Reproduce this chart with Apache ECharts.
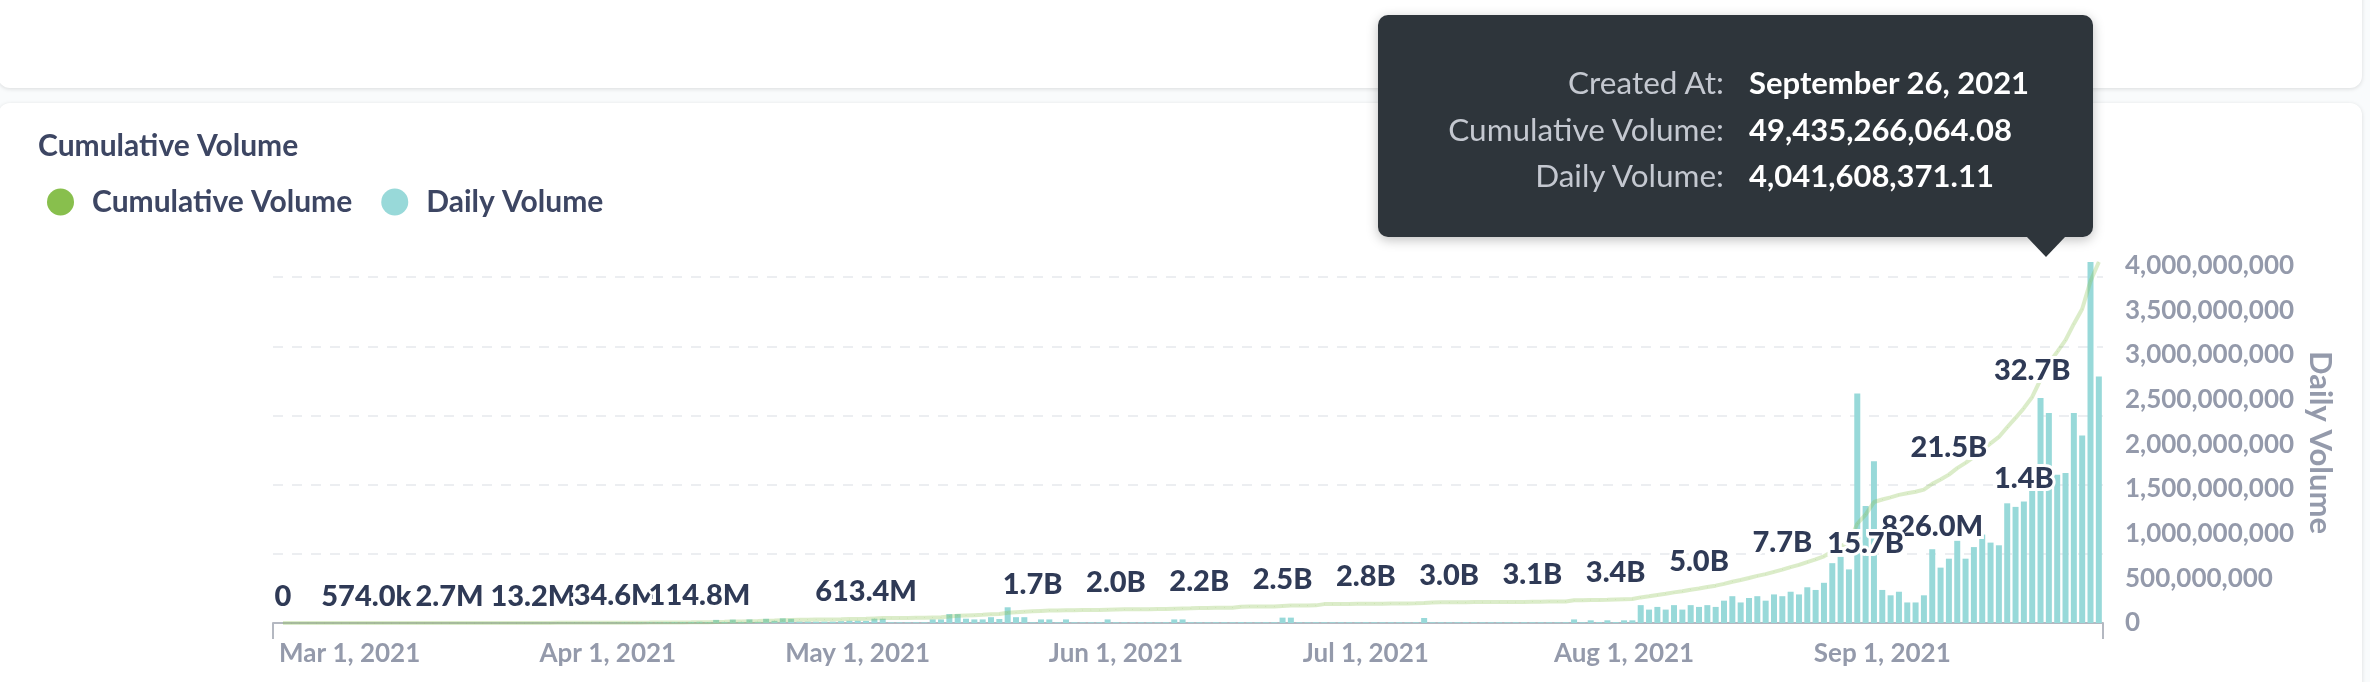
<!DOCTYPE html>
<html><head><meta charset="utf-8">
<script src="https://cdn.jsdelivr.net/npm/echarts@6/dist/echarts.min.js"></script>
<style>
html,body{margin:0;padding:0;width:2370px;height:682px;overflow:hidden;background:#f9fbfc;font-family:Lato,sans-serif;}
.card{position:absolute;background:#fff;border-radius:12px;box-shadow:0 1px 4px rgba(0,0,0,0.13);}
#c1{left:-2px;top:-20px;width:2364px;height:108px;}
#c2{left:-2px;top:103px;width:2364px;height:620px;}
#chart{position:absolute;left:0;top:0;width:2370px;height:682px;}
</style></head><body>
<div class="card" id="c1"></div><div class="card" id="c2"></div>
<div id="chart"></div>
<script>
// ---- data (values in millions) ----
const startDate = '2021-02-21';
const dailyVolumeM = [
0,0.02,0.03,0.03,0.04,0.06,0.07,0.08,0.08,0.08,
0.084,0.106,0.14,0.16,0.17,0.2,0.23,0.25,0.27,0.3,
0.3,0.7,0.8,0.9,0.9,1.0,1.1,1.2,1.2,1.3,
1.4,1.6,1.7,1.9,1.9,2.1,2.2,2.4,2.5,2.5,
2.6,4.4,5,5,6,7,8,9,10,12,
13.8,10,35,12,38,12,40,13,47,24,
52,47,15,15,15,15,15,20,25,25,
23.6,48,48,8,8,8,8,8,40,40,
100,100,48,40,40,65,45,176,65,65,
8,40,40,8,40,8,8,8,8,40,
8,8,8,8,8,8,8,40,40,8,
8,8,8,8,8,10,8,8,8,8,
60,60,8,8,8,8,8,8,8,8,
8,8,8,8,8,8,8,56,8,8,
8,8,8,8,8,8,8,8,8,8,
8,8,8,8,8,40,8,30,10,30,
10,30,30,200,150,180,150,200,150,200,
180,200,180,250,300,230,280,300,250,320,
300,350,320,400,370,450,670,740,600,2570,
1310,1810,370,310,350,230,230,310,826.0,620,
720,920,720,850,990,900,870,1340,1300,1360,
1520,2520,2350,1660,1680,2350,2100,4041.60837111,2760
];
const cumulativeVolumeM = [
0,0.02,0.05,0.08,0.12,0.18,0.25,0.33,0.41,0.49,
0.574,0.68,0.82,0.98,1.15,1.35,1.58,1.83,2.1,2.4,
2.7,3.4,4.2,5.1,6.0,7.0,8.1,9.3,10.5,11.8,
13.2,14.8,16.5,18.4,20.3,22.4,24.6,27.0,29.5,32.0,
34.6,39,44,49,55,62,70,79,89,101,
114.8,124.8,159.8,171.8,209.8,221.8,261.8,274.8,321.8,345.8,
397.8,444.8,459.8,474.8,489.8,504.8,519.8,539.8,564.8,589.8,
613.4,661.4,709.4,717.4,725.4,733.4,741.4,749.4,789.4,829.4,
929.4,1040,1090,1135,1180,1250,1300,1480,1550,1620,
1690,1740,1790,1800,1845,1855,1865,1875,1885,1930,
1960,1970,1980,1990,2000,2010,2020,2065,2110,2120,
2180,2185,2190,2195,2200,2360,2370,2380,2390,2400,
2460,2520,2530,2540,2550,2730,2740,2750,2760,2770,
2780,2790,2800,2810,2820,2830,2840,2900,2980,2990,
3000,3010,3015,3020,3025,3030,3035,3040,3045,3050,
3080,3090,3100,3110,3120,3280,3290,3320,3330,3360,
3400,3430,3460,3700,3870,4060,4220,4430,4590,4800,
5000,5210,5400,5660,5970,6210,6500,6810,7070,7400,
7710,8070,8400,8810,9190,9650,10330,11080,11690,14350,
15680,17490,17860,18170,18520,18750,18980,19290,20116,20736,
21456,22400,23150,24020,25040,25980,26900,28300,29650,31060,
32680,35200,37550,39210,40890,43240,45393.66,49435.26606408,52195
];
const lineLabelIdx = [0,10,20,30,40,50,70,90,100,110,120,130,140,150,160,170,180,190,200,210];
const lineLabelBelowIdx = [190];
const barLabelIdx = [198,209];
const dailyTicksM = [0,500,1000,1500,2000,2500,3000,3500,4000];
const gridStepM = 10000;
const hoverIdx = 217;
const monthsShort = ['Jan','Feb','Mar','Apr','May','Jun','Jul','Aug','Sep','Oct','Nov','Dec'];
const monthsLong = ['January','February','March','April','May','June','July','August','September','October','November','December'];

// ---- helpers ----
const [sy, sm, sd] = startDate.split('-').map(Number);
const dates = dailyVolumeM.map((_, i) => new Date(Date.UTC(sy, sm - 1, sd + i)));
const monthStartIdx = dates.map((d, i) => d.getUTCDate() === 1 ? i : -1).filter(i => i >= 0);
const fmtShort = d => monthsShort[d.getUTCMonth()] + ' ' + d.getUTCDate() + ', ' + d.getUTCFullYear();
const fmtLong = d => monthsLong[d.getUTCMonth()] + ' ' + d.getUTCDate() + ', ' + d.getUTCFullYear();
const compact = v => v === 0 ? '0' : v < 1 ? (v * 1000).toFixed(1) + 'k' : v < 1000 ? v.toFixed(1) + 'M' : (v / 1000).toFixed(1) + 'B';
const full = v => (v * 1e6).toLocaleString('en-US', {minimumFractionDigits: 2, maximumFractionDigits: 2});
const intFmt = v => Math.round(v * 1e6).toLocaleString('en-US');

const xMin = -1.2, xMax = dailyVolumeM.length - 1 + 0.5;
const FONT = 'Lato';
const labelStyle = {position: 'top', color: '#2f3a56', fontFamily: FONT, fontSize: 29, fontWeight: 900,
  textBorderColor: '#fff', textBorderWidth: 6};
const axisGrey = '#949aab';

const chart = echarts.init(document.getElementById('chart'), null, {renderer: 'canvas'});

function tipHtml(i) {
  const rows = [['Created At:', fmtLong(dates[i])], ['Cumulative Volume:', full(cumulativeVolumeM[i])], ['Daily Volume:', full(dailyVolumeM[i])]];
  let h = '<div style="position:relative;width:715px;height:222px;background:#2e353b;border-radius:10px;box-shadow:0 3px 12px rgba(0,0,0,0.25);font-family:Lato;font-size:31px;line-height:36px;">';
  rows.forEach((r, k) => {
    const t = 49 + k * 46.5;
    h += '<div style="position:absolute;left:0;width:346px;text-align:right;top:' + t + 'px;color:#c4c8d0;font-size:31.5px;">' + r[0] + '</div>';
    h += '<div style="position:absolute;left:371px;top:' + t + 'px;color:#fff;font-weight:bold;white-space:nowrap;">' + r[1] + '</div>';
  });
  h += '<div style="position:absolute;left:649px;top:222px;width:0;height:0;border-left:19px solid transparent;border-right:19px solid transparent;border-top:20px solid #2e353b;"></div>';
  h += '</div>';
  return h;
}

chart.setOption({
  animation: false,
  title: {text: 'Cumulative Volume', left: 38, top: 131, padding: 0,
    textStyle: {fontFamily: FONT, fontSize: 30, fontWeight: 'bold', color: '#3d4663'}},
  legend: {left: 47, top: 187, padding: 0, icon: 'circle', itemWidth: 27, itemHeight: 27, itemGap: 29, selectedMode: false,
    textStyle: {fontFamily: FONT, fontSize: 30, fontWeight: 'bold', color: '#3d4663', padding: [0, 0, 0, 13]},
    data: [{name: 'Cumulative Volume', itemStyle: {color: '#88BF4D', opacity: 1}}, {name: 'Daily Volume', itemStyle: {color: '#98D9D9'}}]},
  tooltip: {trigger: 'item', triggerOn: 'none', alwaysShowContent: true, transitionDuration: 0,
    backgroundColor: 'transparent', borderWidth: 0, padding: 0, extraCssText: 'box-shadow:none;',
    position: [1378, 15], formatter: p => tipHtml(p.dataIndex)},
  grid: {left: 273, right: 267, top: 262, bottom: 59},
  xAxis: {type: 'value', min: xMin, max: xMax,
    axisLine: {lineStyle: {color: '#b4b8c1', width: 2}},
    axisTick: {show: true, customValues: [xMin, xMax], length: 16, lineStyle: {color: '#b4b8c1', width: 2}},
    splitLine: {show: false},
    axisLabel: {customValues: monthStartIdx, formatter: v => fmtShort(dates[Math.round(v)]),
      color: axisGrey, fontFamily: FONT, fontSize: 26, fontWeight: 'bold', margin: 18}},
  yAxis: [
    {type: 'value', min: 0, max: 'dataMax', interval: gridStepM,
      axisLabel: {show: false}, axisLine: {show: false}, axisTick: {show: false},
      splitLine: {show: true, showMinLine: false, showMaxLine: false, lineStyle: {color: '#eceef1', width: 2, type: [10, 9]}}},
    {type: 'value', position: 'right', min: 0, max: 'dataMax',
      axisLine: {show: false}, axisTick: {show: false}, splitLine: {show: false},
      axisLabel: {customValues: dailyTicksM, formatter: intFmt, color: axisGrey, fontFamily: FONT, fontSize: 26, fontWeight: 'bold', margin: 22},
      name: 'Daily Volume', nameLocation: 'middle', nameRotate: -90, nameGap: 198,
      nameTextStyle: {color: axisGrey, fontFamily: FONT, fontSize: 31, fontWeight: 'bold'}}
  ],
  series: [
    {name: 'Daily Volume', type: 'bar', yAxisIndex: 1, barWidth: 6, z: 2,
      itemStyle: {color: '#98D9D9'},
      label: Object.assign({show: false, distance: 8, formatter: p => compact(p.value[1])}, labelStyle),
      data: dailyVolumeM.map((v, i) => barLabelIdx.includes(i) ? {value: [i, v], label: {show: true}} : [i, v])},
    {name: 'Cumulative Volume', type: 'line', yAxisIndex: 0, z: 3,
      symbol: 'circle', symbolSize: 0.5, showSymbol: true, showAllSymbol: true,
      itemStyle: {color: '#88BF4D'}, lineStyle: {color: '#88BF4D', width: 4, opacity: 0.3},
      label: Object.assign({show: false, distance: 12, formatter: p => compact(p.value[1])}, labelStyle),
      data: cumulativeVolumeM.map((v, i) => lineLabelIdx.includes(i)
        ? {value: [i, v], label: lineLabelBelowIdx.includes(i) ? {show: true, position: 'bottom', distance: 14} : {show: true}}
        : [i, v])}
  ]
});
chart.dispatchAction({type: 'showTip', seriesIndex: 0, dataIndex: hoverIdx});
</script></body></html>
